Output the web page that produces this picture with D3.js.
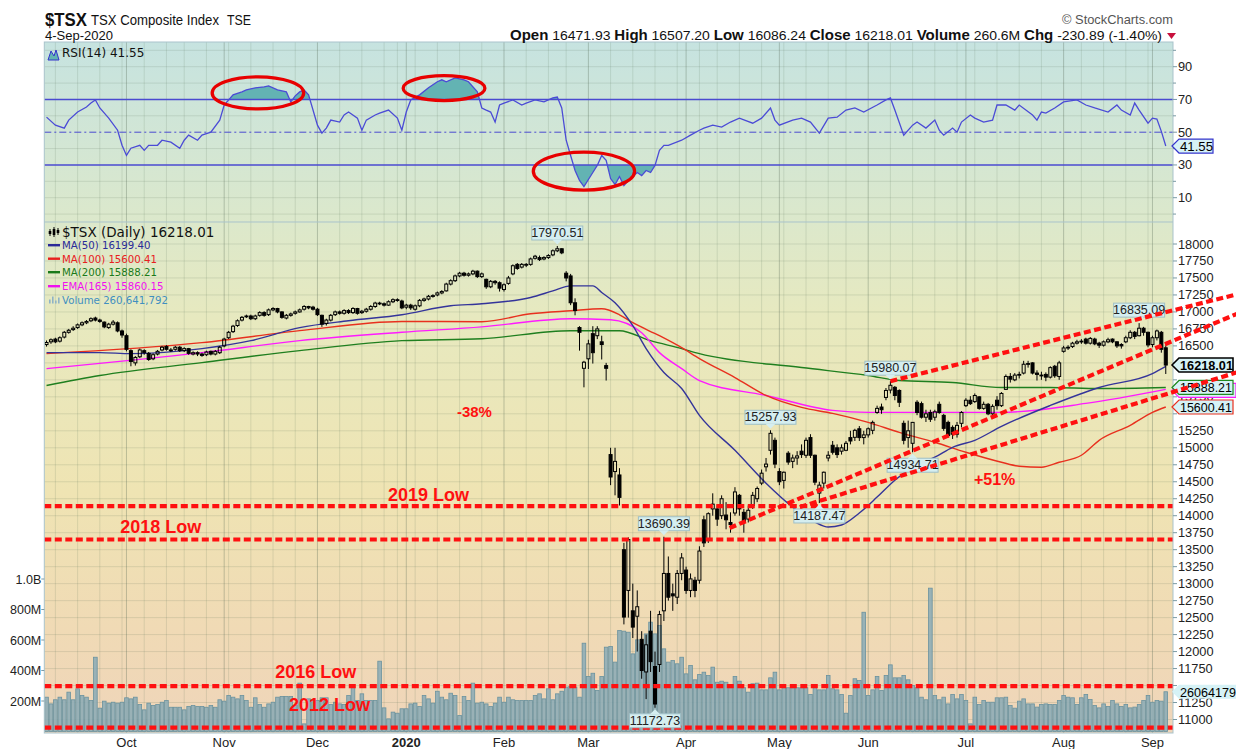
<!DOCTYPE html>
<html><head><meta charset="utf-8">
<script src="https://cdn.jsdelivr.net/npm/d3@7/dist/d3.min.js"></script>
<style>html,body{margin:0;padding:0;background:#fff;}svg{display:block;}</style>
</head><body>
<svg id="chart" width="1236" height="749"></svg>
<script>
// ================= DATA =================
const firstDay = "2019-09-05", lastDay = "2020-09-04";
const holidays = ["2019-10-14","2019-12-25","2019-12-26","2020-01-01","2020-02-17","2020-04-10","2020-05-18","2020-07-01","2020-08-03"];

const open = [
16520,16560,16600,16570,16630,16700,16740,16770,16810,16840,16870,16910,16880,16850,16770,16820,16840,16720,
16650,16430,16250,16340,16430,16390,16310,16380,16440,16490,16440,16450,16480,16430,16460,16380,16400,16380,16370,16420,16380,16400,
16500,16620,16710,16800,16880,16930,16940,16900,16950,16990,16960,17030,17050,17000,16910,16950,16980,17000,17040,17080,17070,
17040,16950,16830,16880,16960,17000,16980,17020,16990,17050,16990,17010,17040,17080,17130,17120,17100,17150,17180,17160,
17070,17100,17040,17090,17170,17190,17230,17250,17280,17310,17410,17460,17530,17570,17540,17560,17600,17520,17480,17370,17450,17430,
17330,17420,17560,17700,17660,17700,17700,17790,17800,17780,17800,17840,17900,17930,17570,17530,17135,16770,16170,
16310,16680,16650,16560,16210,14900,14650,14600,13500,12900,12600,12520,12180,11700,12300,11780,11810,12600,13150,12850,12800,13150,
13200,12900,13050,13050,13940,13650,14100,14100,14000,14010,13900,14040,14300,14050,13950,14150,14250,14480,14720,14963,15110,
14650,14520,14920,14800,14850,14950,14890,15150,14890,14333,14480,14850,15037,15000,14950,14963,15150,15154,15280,15150,
15190,15257,15520,15600,15741,15850,15890,15844,15360,15150,15066,15670,15650,15450,15520,15450,15640,15477,15374,15300,15200,15360,
15620,15700,15680,15750,15580,15640,15500,15700,15620,15860,16050,16000,16070,16100,16230,16250,16100,16060,16080,16040,16200,16050,
16420,16470,16490,16540,16570,16600,16540,16600,16540,16510,16560,16600,16560,16520,16560,16620,16700,16650,16760,16700,
16520,16620,16700,16471.93];
const high = [
16580,16610,16620,16640,16720,16750,16790,16830,16860,16880,16920,16930,16900,16860,16840,16880,16860,16740,
16680,16450,16350,16460,16450,16410,16390,16440,16500,16510,16470,16500,16500,16480,16470,16420,16420,16400,16430,16430,16440,16500,
16620,16720,16810,16890,16940,16960,16960,16960,17010,17010,17050,17070,17060,17010,16970,16990,17020,17050,17100,17090,17090,
17060,16960,16900,16970,17020,17020,17040,17040,17070,17060,17030,17060,17100,17150,17150,17140,17170,17200,17200,17180,
17120,17120,17110,17190,17210,17250,17260,17300,17320,17430,17480,17550,17590,17590,17580,17620,17610,17580,17490,17470,17470,17450,
17420,17530,17700,17720,17720,17720,17800,17840,17830,17820,17850,17920,17970.51,17940,17600,17560,17200,16790,16280,
16590,16790,16790,16650,16250,15000,15000,14700,13600,13680,13000,12900,12300,12250,12600,12000,12600,13690.39,13400,13000,13200,13450,
13250,13150,13100,13550,14000,14050,14330,14150,14300,14200,14050,14420,14320,14100,14150,14350,14430,14680,14850,15257.93,15150,
14700,14650,14950,14900,14950,15050,15150,15200,14900,14500,14650,14950,15100,15050,15050,15100,15250,15280,15320,15250,
15300,15400,15620,15650,15880,15980.07,15910,15860,15400,15400,15380,15700,15680,15560,15560,15560,15680,15500,15400,15330,15380,15540,
15730,15760,15800,15760,15680,15660,15640,15760,15820,16080,16100,16100,16120,16280,16280,16260,16140,16120,16110,16200,16220,16280,
16500,16510,16560,16590,16600,16620,16630,16620,16560,16580,16620,16610,16570,16540,16650,16730,16720,16835.09,16780,16710,
16650,16740,16720,16507.20];
const low = [
16490,16530,16540,16550,16610,16680,16720,16750,16790,16820,16850,16860,16840,16760,16750,16800,16700,16620,
16420,16200,16210,16320,16370,16280,16290,16360,16420,16430,16410,16430,16410,16410,16370,16360,16350,16340,16350,16360,16360,16380,
16480,16600,16690,16780,16860,16910,16880,16880,16930,16930,16940,17010,16980,16900,16890,16930,16960,16990,17020,17040,17020,
16940,16780,16800,16860,16940,16960,16960,16970,16970,16960,16970,16990,17020,17060,17100,17080,17090,17130,17150,17040,
17040,17030,17020,17070,17150,17170,17210,17230,17260,17300,17390,17440,17510,17520,17520,17540,17500,17500,17340,17350,17400,17300,
17300,17400,17540,17620,17640,17660,17680,17770,17750,17760,17780,17820,17880,17850,17450,17100,16950,16430,15890,
16160,16240,16600,16300,15990,14450,14300,14150,12400,12500,12200,12000,11600,11300,11700,11172.73,11700,12450,12750,12600,12700,13050,
12850,12800,12800,13000,13540,13600,14000,13850,13950,13800,13750,14000,14000,13750,13900,14100,14200,14450,14650,14900,14700,
14450,14400,14750,14700,14750,14850,14850,14850,14450,14187.47,14400,14800,14900,14850,14900,14950,15050,15100,15100,15050,
15150,15200,15500,15500,15700,15800,15700,15600,15050,15000,14934.71,15480,15430,15380,15380,15400,15500,15250,15150,15130,15150,15300,
15600,15630,15660,15560,15560,15480,15480,15560,15600,15850,15960,15980,16020,16080,16180,16080,15990,16000,15980,16020,16030,16000,
16400,16440,16470,16520,16530,16520,16520,16510,16470,16490,16540,16540,16470,16460,16540,16600,16600,16640,16650,16480,
16480,16580,16400,16086.24];
const close = [
16550,16590,16560,16620,16700,16730,16760,16810,16840,16860,16900,16880,16860,16780,16820,16850,16720,16660,
16450,16270,16330,16440,16400,16300,16370,16420,16480,16450,16440,16480,16430,16460,16390,16400,16380,16360,16410,16380,16420,16480,
16600,16700,16790,16870,16920,16940,16900,16940,16990,16950,17030,17050,17000,16920,16950,16970,17000,17030,17080,17060,17040,
16960,16820,16880,16950,17000,16980,17020,16990,17050,16980,17010,17040,17080,17130,17120,17100,17150,17180,17170,17060,
17100,17060,17090,17170,17190,17230,17240,17280,17300,17410,17460,17530,17570,17540,17560,17600,17520,17560,17370,17450,17430,17350,
17400,17500,17680,17640,17700,17690,17780,17820,17770,17800,17830,17900,17930,17870,17500,17135,17020,16700,16260,
16530,16400,16750,16520,16170,14570,14800,14270,12508,13650,12360,12660,11721,12100,11852,11228,12545,13150,12800,12820,13150,13379,
12900,13070,12900,13480,13600,14030,14170,13950,14250,13940,13870,14350,14100,13900,14080,14300,14400,14626,14760,15213,14760,
14500,14640,14790,14850,14880,14900,15110,14890,14494,14450,14640,14890,14934,14900,15000,15066,15100,15257,15150,15190,
15280,15374,15580,15560,15844,15920,15770,15670,15110,15250,15374,15520,15450,15500,15420,15530,15520,15286,15180,15200,15330,15520,
15700,15650,15770,15580,15640,15500,15610,15620,15800,16050,16010,16070,16080,16230,16240,16100,16080,16070,16040,16180,16060,16250,
16470,16480,16540,16560,16560,16540,16610,16530,16510,16560,16590,16560,16500,16500,16620,16700,16640,16760,16700,16514,
16620,16720,16450,16218.01];
// volume, millions of shares
const volumeM = [
225,181,208,225,208,258,208,280,236,225,203,487,153,199,186,192,186,192,221,214,225,177,142,186,170,177,192,203,159,159,
159,142,164,170,164,164,159,170,159,208,199,236,225,214,236,203,159,221,177,159,181,192,225,230,230,230,170,317,50,214,
208,203,221,221,177,192,181,177,236,291,203,247,203,203,203,461,155,83,127,120,149,149,181,186,
164,236,214,186,264,225,208,251,236,105,229,203,317,186,192,181,164,186,225,192,225,208,203,203,203,203,236,247,214,280,
208,247,264,291,295,291,225,579,361,382,269,361,553,557,455,662,658,651,509,601,575,640,717,640,695,542,455,465,444,487,
378,433,339,374,389,367,422,323,330,323,287,361,330,287,258,313,317,273,273,352,389,273,291,287,287,287,287,287,243,295,
273,273,367,280,273,243,120,236,346,334,782,236,273,361,269,367,437,352,352,367,339,302,287,225,208,940,236,208,225,181,
243,214,243,203,50,225,177,203,192,192,221,221,225,170,153,199,214,181,181,160,177,181,177,177,203,236,225,221,177,221,
243,210,170,155,181,164,203,181,164,177,155,160,177,203,236,192,203,199,260.64];

const rsiDay = [0,2,4,5,7,9,10,11,12,14,16,17,18,19,21,22,23,25,26,28,30,31,32,34,35,37,39,40,42,44,45,47,49,50,52,54,55,56,57,58,59,61,62,63,64,66,67,68,70,71,72,74,75,77,79,80,81,82,84,86,88,89,90,92,94,95,97,98,99,100,101,102,103,105,107,108,110,112,114,115,116,117,118,119,120,121,123,124,125,126,127,128,129,130,131,133,134,135,136,137,138,139,140,143,145,147,148,150,152,154,156,159,161,163,164,165,168,170,172,174,176,178,180,182,184,187,189,190,191,193,195,196,198,200,201,202,204,205,206,208,209,211,213,214,216,218,219,222,223,224,225,227,229,232,234,236,239,241,242,244,245,246,248,249,250,251,252];
const rsiValue = [59.2,54.3,52.5,57.4,62.3,65.4,67.8,69.7,64.8,58.6,51.2,42,35.8,40.2,42,38.9,42,42,45.1,43.9,40.2,45.1,48.2,45.1,48.2,50,57.4,66.6,72.8,74.6,75.8,77.1,77.7,78.3,75.8,74.6,68.5,72.2,74.6,75.8,72.8,54.3,49.4,52.5,57.4,56.2,60.5,62.3,58.6,51.2,57.4,60.5,61.7,63.5,58.6,51.2,62.3,69.7,72.8,77.1,80.8,82,80.8,83.2,82,80.8,74.6,64.8,63.5,62.3,56.2,66.6,67.8,69.7,66.6,67.8,69.7,68.5,70.9,71.5,64.8,45.1,35.8,26.6,20.5,16.8,25.4,29.7,35.8,32.8,21.7,18,22.9,17.4,20.5,25.4,23.5,26.6,25.4,29.7,38.9,42,42,45.1,48.2,51.2,52.5,54.3,53.1,56.2,58.6,55.5,58.6,64.8,57.4,54.3,57.4,58.6,56.2,49.4,58.6,59.2,63.5,64.8,62.3,66.6,69.7,70.9,63.5,48.2,54.3,56.2,52.5,57.4,51.2,48.2,52.5,50,56.2,60.5,58.6,56.2,57.4,66.6,66.6,63.5,66.6,60.5,57.4,62.3,61.7,64.8,68.5,69.7,66.6,64.8,62.3,66.6,63.5,60.5,67.8,63.5,55.5,58.6,58,50.5,41.55];

const ma50Day = [0,12,19,35,46,57,68,80,91,98,109,114,118,123,125,128,132,135,139,143,147,155,162,168,173,176,179,183,187,191,195,200,204,209,215,226,237,249,252];
const ma50Value = [16401,16401,16386,16460,16577,16768,16870,16958,17090,17120,17212,17310,17384,17384,17286,17134,16797,16460,16108,15873,15477,14963,14479,14127,13907,13834,13863,14039,14274,14523,14714,14861,15007,15110,15315,15623,15888,16093,16199.40];
const ma100Day = [0,35,57,80,98,109,118,125,129,132,138,143,147,155,162,170,177,185,192,200,207,215,219,224,228,233,237,244,249,252];
const ma100Value = [16386,16548,16724,16860,16856,16973,17017,17046,16958,16841,16650,16474,16313,16034,15770,15594,15506,15374,15227,15081,14934,14787,14729,14714,14787,14890,15110,15330,15521,15600.41];
const ma200Day = [0,12,35,57,80,98,118,129,136,143,147,170,185,192,204,215,226,237,252];
const ma200Value = [15917,16064,16254,16430,16577,16606,16724,16724,16577,16460,16386,16181,16064,15990,15961,15888,15888,15873,15888.21];
const ema165Day = [0,35,57,80,98,118,127,134,138,143,147,162,177,185,200,215,234,252];
const ema165Value = [16166,16401,16577,16700,16780,16900,16885,16694,16401,16166,15990,15770,15550,15521,15521,15521,15653,15860.15];

const priceTicks = [11000,11250,11500,11750,12000,12250,12500,12750,13000,13250,13500,13750,14000,14250,14500,14750,15000,15250,15500,15750,16000,16250,16500,16750,17000,17250,17500,17750,18000];
const rsiTicks = [10,30,50,70,90];
const volumeTicks = [200,400,600,800,1000];
const volumeTickLabels = ["200M","400M","600M","800M","1.0B"];

// peak / trough tags: day index, price, kind
const tagDay = [115,139,163,174,190,195,246,137];
const tagPrice = [17970.51,13690.39,15257.93,14187.47,15980.07,14934.71,16835.09,11172.73];
const tagKind = ["high","high","high","low","high","low","high","low"];

// horizontal support levels (price) and their names
const levelPrice = [14140,13650,11490,10880];
const levelName = ["2019 Low","2018 Low","2016 Low","2012 Low"];
const levelTextDay = [76.9,16.6,51.5,54.6];
const levelTextPrice = [14217,13746,11611,11126];

// trend lines
const trendStartDay = [190,153.8,169.6];
const trendStartPrice = [15980,13819,14128];
const trendEndDay = [268.3,268.3,268.3];
const trendEndPrice = [17264,16980,16116];

const pctText = ["-38%","+51%"];
const pctDay = [92.4,208.8];
const pctPrice = [15453,14452];

// RSI highlight ellipses
const ellDay = [47.6,89.5,121];
const ellRsi = [74.0,76.9,26.2];
const ellHalfDays = [10.3,9.2,11.4];
const ellHalfRsi = [9.8,7.6,11.6];

// ================= CHART =================
const svg = d3.select("#chart");
const fmt = d3.timeFormat("%Y-%m-%d");
const parse = d3.timeParse("%Y-%m-%d");
const days = [];
for (let d = parse(firstDay); d <= parse(lastDay); d = d3.timeDay.offset(d, 1)) {
  const wd = d.getDay();
  if (wd === 0 || wd === 6) continue;
  if (holidays.includes(fmt(d))) continue;
  days.push(d);
}
const N = days.length;

const L = 44.3, R = 1173, T = 42, MID = 222, B = 733;
const xi = d3.scaleLinear().domain([-0.5, N - 0.5]).range([L, 1168]);
const step = xi(1) - xi(0);
const yP = d3.scaleLinear().domain([11000, 18000]).range([719.5, 244]);
const yR = d3.scaleLinear().domain([10, 90]).range([197.7, 66.7]);
const yV = d3.scaleLinear().domain([0, 1000]).range([731.5, 579]);

const defs = svg.append("defs");
const grad = defs.append("linearGradient").attr("id","bg").attr("gradientUnits","userSpaceOnUse")
  .attr("x1",0).attr("x2",0).attr("y1",T).attr("y2",B);
[[0,"#c6e3e0"],[0.25,"#dbe8cc"],[0.4,"#e7e9bf"],[0.65,"#efe4b3"],[0.85,"#f0dab5"],[1,"#efd5ba"]]
  .forEach(s => grad.append("stop").attr("offset", s[0]).attr("stop-color", s[1]));
defs.append("clipPath").attr("id","plotClip").append("rect").attr("x",L).attr("y",MID).attr("width",R-L).attr("height",B-MID);
defs.append("clipPath").attr("id","rsiClip").append("rect").attr("x",L).attr("y",T).attr("width",R-L).attr("height",MID-T);
defs.append("clipPath").attr("id","ob").append("rect").attr("x",L).attr("y",T).attr("width",R-L).attr("height",yR(70)-T);
defs.append("clipPath").attr("id","os").append("rect").attr("x",L).attr("y",yR(30)).attr("width",R-L).attr("height",MID-yR(30));

svg.append("rect").attr("x",L).attr("y",T).attr("width",R-L).attr("height",B-T).attr("fill","url(#bg)");

// grid
const grid = svg.append("g");
const weekStarts = [], monthStarts = [];
days.forEach((d,i) => {
  if (i > 0 && d.getDay() <= days[i-1].getDay()) weekStarts.push(i);
  if (i > 0 && d.getMonth() !== days[i-1].getMonth()) monthStarts.push(i);
});
weekStarts.filter(i => !monthStarts.includes(i)).forEach(i => {
  grid.append("line").attr("x1",xi(i)).attr("x2",xi(i)).attr("y1",T).attr("y2",B)
    .attr("stroke","rgba(90,110,90,0.16)").attr("stroke-width",1);
});
monthStarts.forEach(i => {
  grid.append("line").attr("x1",xi(i)).attr("x2",xi(i)).attr("y1",T).attr("y2",B)
    .attr("stroke","rgba(80,100,80,0.32)").attr("stroke-width",1);
});
priceTicks.forEach(v => {
  grid.append("line").attr("x1",L).attr("x2",R).attr("y1",yP(v)).attr("y2",yP(v))
    .attr("stroke","rgba(90,110,90,0.16)");
});
d3.range(0, 101, 10).forEach(v => {
  if (v === 30 || v === 50 || v === 70) return;
  grid.append("line").attr("x1",L).attr("x2",R).attr("y1",yR(v)).attr("y2",yR(v))
    .attr("stroke","rgba(90,110,90,0.16)").attr("clip-path","url(#rsiClip)");
});

// ---- RSI panel ----
const rsiPts = rsiDay.map((d,i) => [d, rsiValue[i]]);
const rsiG = svg.append("g");
const areaOB = d3.area().x(p => xi(p[0])).y0(yR(70)).y1(p => yR(p[1]));
const areaOS = d3.area().x(p => xi(p[0])).y0(yR(30)).y1(p => yR(p[1]));
rsiG.append("path").attr("d", areaOB(rsiPts)).attr("fill","#63b3b3").attr("clip-path","url(#ob)");
rsiG.append("path").attr("d", areaOS(rsiPts)).attr("fill","#63b3b3").attr("clip-path","url(#os)");
[70,30].forEach(v => rsiG.append("line").attr("x1",L).attr("x2",R).attr("y1",yR(v)).attr("y2",yR(v))
  .attr("stroke","#4a4ad0").attr("stroke-width",1.4));
rsiG.append("line").attr("x1",L).attr("x2",R).attr("y1",yR(50)).attr("y2",yR(50))
  .attr("stroke","#4a4ad0").attr("stroke-width",1).attr("stroke-dasharray","7,3,2,3");
rsiG.append("path").attr("d", d3.line().x(p => xi(p[0])).y(p => yR(p[1]))(rsiPts))
  .attr("fill","none").attr("stroke","#4b4bd6").attr("stroke-width",1.3);
ellDay.forEach((d,i) => {
  rsiG.append("ellipse").attr("cx", xi(ellDay[i])).attr("cy", yR(ellRsi[i]))
    .attr("rx", xi(ellDay[i] + ellHalfDays[i]) - xi(ellDay[i]))
    .attr("ry", yR(ellRsi[i] - ellHalfRsi[i]) - yR(ellRsi[i]))
    .attr("fill","none").attr("stroke","#e80000").attr("stroke-width",3.3);
});

// ---- price panel ----
const pg = svg.append("g").attr("clip-path","url(#plotClip)");
pg.append("g").selectAll("rect").data(volumeM).join("rect")
  .attr("x",(v,i) => xi(i) - step/2 + 0.4).attr("width", step - 0.8)
  .attr("y", v => yV(v)).attr("height", v => yV(0) - yV(v))
  .attr("fill","#8fadb6").attr("fill-opacity",0.9).attr("stroke","#6a929e").attr("stroke-width",0.8);

const maLine = d3.line().curve(d3.curveMonotoneX).x(p => xi(p[0])).y(p => yP(p[1]));
function drawMA(dayArr, valArr, color) {
  pg.append("path").attr("d", maLine(dayArr.map((d,i) => [d, valArr[i]])))
    .attr("fill","none").attr("stroke", color).attr("stroke-width",1.4);
}
drawMA(ma200Day, ma200Value, "#1f7f1f");
drawMA(ema165Day, ema165Value, "#ff1aff");
drawMA(ma100Day, ma100Value, "#e8301e");
drawMA(ma50Day, ma50Value, "#34349a");

const cg = pg.append("g");
close.forEach((c,i) => {
  const x = xi(i), o = open[i];
  const top = Math.max(o, c), bot = Math.min(o, c);
  const hi = Math.max(high[i], top), lo = Math.min(low[i], bot);
  cg.append("line").attr("x1",x).attr("x2",x).attr("y1",yP(hi)).attr("y2",yP(top)).attr("stroke","#000").attr("stroke-width",1);
  cg.append("line").attr("x1",x).attr("x2",x).attr("y1",yP(bot)).attr("y2",yP(lo)).attr("stroke","#000").attr("stroke-width",1);
  cg.append("rect").attr("x", x - 1.5).attr("width", 3)
    .attr("y", yP(top)).attr("height", Math.max(0.8, yP(bot) - yP(top)))
    .attr("fill", c >= o ? "none" : "#000").attr("stroke","#000").attr("stroke-width",1);
});

const redDash = {stroke:"#ff1010", width:4.2, dash:"7,3.5"};
levelPrice.forEach((v,i) => {
  svg.append("line").attr("x1",L).attr("x2",R).attr("y1",yP(v)).attr("y2",yP(v))
    .attr("stroke",redDash.stroke).attr("stroke-width",redDash.width).attr("stroke-dasharray",redDash.dash);
  svg.append("text").attr("x", xi(levelTextDay[i])).attr("y", yP(levelTextPrice[i]))
    .attr("font-family","Liberation Sans, Arial, sans-serif").attr("font-weight","bold").attr("font-size",18)
    .attr("fill","#ff1010").text(levelName[i]);
});
pctText.forEach((t,i) => {
  svg.append("text").attr("x", xi(pctDay[i])).attr("y", yP(pctPrice[i]))
    .attr("font-family","Liberation Sans, Arial, sans-serif").attr("font-weight","bold").attr("font-size",i===0?15:16)
    .attr("fill","#ff1010").text(t);
});

tagDay.forEach((d,i) => {
  const x = xi(d), y = yP(tagPrice[i]);
  const txt = tagPrice[i].toFixed(2);
  const w = 51, h = 14;
  const g = svg.append("g");
  let by, tri;
  if (tagKind[i] === "high") { by = y - 6 - h; tri = `M${x-5},${y-6.5}L${x+5},${y-6.5}L${x},${y-1.5}Z`; }
  else { by = y + 6; tri = `M${x-5},${y+6.5}L${x+5},${y+6.5}L${x},${y+1.5}Z`; }
  g.append("rect").attr("x", x - w/2).attr("y", by).attr("width", w).attr("height", h)
    .attr("fill","#d5eef0").attr("stroke","#9fbfc6").attr("stroke-width",1);
  g.append("path").attr("d", tri).attr("fill","#d5eef0");
  g.append("text").attr("x", x).attr("y", by + 11).attr("text-anchor","middle")
    .attr("font-family","Liberation Sans, Arial, sans-serif").attr("font-size",12.5).attr("fill","#222").text(txt);
});

svg.append("rect").attr("x",L).attr("y",T).attr("width",R-L).attr("height",B-T).attr("fill","none").attr("stroke","#a9c3cb").attr("stroke-width",1);
svg.append("line").attr("x1",L).attr("x2",R).attr("y1",MID).attr("y2",MID).attr("stroke","#a9c3cb");
const axFont = "Liberation Sans, Arial, sans-serif";
// right value tag positions (price labels hidden behind them are skipped)
const tagYs = [yP(close[N-1]), yP(ma200Value[ma200Value.length-1]), yP(ma100Value[ma100Value.length-1]), yV(volumeM[N-1])];
priceTicks.forEach(v => {
  svg.append("line").attr("x1",R).attr("x2",R+4).attr("y1",yP(v)).attr("y2",yP(v)).attr("stroke","#7a9aa4");
  const hidden = tagYs.some(ty => Math.abs(ty - yP(v)) < 9);
  svg.append("text").attr("x",R+5).attr("y",yP(v)+4.5).attr("font-family",axFont).attr("font-size",12.8)
    .attr("fill","#222").attr("opacity", hidden ? 0 : 1).text(v);
});
d3.range(0, 101, 10).forEach(v => {
  if (yR(v) < T || yR(v) > MID) return;
  svg.append("line").attr("x1",R).attr("x2",R+(rsiTicks.includes(v)?4:3)).attr("y1",yR(v)).attr("y2",yR(v)).attr("stroke","#7a9aa4");
});
rsiTicks.forEach(v => {
  svg.append("text").attr("x",R+5).attr("y",yR(v)+4.5).attr("font-family",axFont).attr("font-size",12.8).attr("fill","#222").text(v);
});
volumeTicks.forEach((v,i) => {
  svg.append("line").attr("x1",L-3).attr("x2",L).attr("y1",yV(v)).attr("y2",yV(v)).attr("stroke","#7a9aa4");
  svg.append("text").attr("x",L-3).attr("y",yV(v)+4.5).attr("text-anchor","end").attr("font-family",axFont).attr("font-size",12.5).attr("fill","#222").text(volumeTickLabels[i]);
});
const monthFmt = d3.timeFormat("%b");
monthStarts.forEach(i => {
  const d = days[i];
  const isYear = d.getMonth() === 0;
  svg.append("text").attr("x", xi(i)).attr("y", 747).attr("text-anchor","middle")
    .attr("font-family",axFont).attr("font-size",13).attr("font-weight", isYear ? "bold" : "normal")
    .attr("fill","#222").text(isYear ? d.getFullYear() : monthFmt(d));
});

function valueTag(y, text, stroke, bold, x2, fs, tl) {
  const g = svg.append("g");
  g.append("path").attr("d", `M${R-1},${y}L${R+6},${y-7}L${x2},${y-7}L${x2},${y+7}L${R+6},${y+7}Z`)
    .attr("fill","#d6f2f6").attr("stroke", stroke || "none").attr("stroke-width", bold ? 1.6 : 1.2);
  if (text) {
    const t = g.append("text").attr("x", R+7).attr("y", y+4.8).attr("font-family",axFont).attr("font-size",fs)
      .attr("font-weight", bold ? "bold" : "normal").attr("fill","#000").text(text);
    if (tl) t.attr("textLength", tl).attr("lengthAdjust","spacingAndGlyphs");
  }
}
valueTag(yR(rsiValue[rsiValue.length-1]), rsiValue[rsiValue.length-1].toFixed(2), "#3434cc", false, 1213, 13, 33);
valueTag(yP(ema165Value[ema165Value.length-1]) + 1, "", "#ff1aff", false, 1236, 13);
valueTag(yP(ma200Value[ma200Value.length-1]), ma200Value[ma200Value.length-1].toFixed(2), "#1f8a1f", false, 1233, 13, 52);
valueTag(yP(ma100Value[ma100Value.length-1]), ma100Value[ma100Value.length-1].toFixed(2), "#e8301e", false, 1233, 13, 52);
valueTag(yP(close[N-1]), close[N-1].toFixed(2), "#000", true, 1233, 13.5, 53);
valueTag(yV(volumeM[N-1]), "26064179", null, false, 1240, 13, 56);

trendStartDay.forEach((d,i) => {
  svg.append("line").attr("x1", xi(trendStartDay[i])).attr("y1", yP(trendStartPrice[i]))
    .attr("x2", xi(trendEndDay[i])).attr("y2", yP(trendEndPrice[i]))
    .attr("stroke",redDash.stroke).attr("stroke-width",redDash.width).attr("stroke-dasharray",redDash.dash);
});

const lf = "DejaVu Sans, Verdana, sans-serif";
const leg = svg.append("g");
leg.append("text").attr("x",62).attr("y",236.5).attr("font-family",lf).attr("font-size",13.5).attr("fill","#111").text("$TSX (Daily) " + close[N-1].toFixed(2));
[[50,231,234],[54,229,235],[58,230,233]].forEach(c => {
  leg.append("line").attr("x1",c[0]).attr("x2",c[0]).attr("y1",c[1]-2).attr("y2",c[2]+2).attr("stroke","#000");
  leg.append("rect").attr("x",c[0]-1.3).attr("y",c[1]).attr("width",2.6).attr("height",c[2]-c[1]).attr("fill","#000");
});
const legRows = [
  ["MA(50) " + ma50Value[ma50Value.length-1].toFixed(2), "#2a2a98", 249],
  ["MA(100) " + ma100Value[ma100Value.length-1].toFixed(2), "#e8201e", 262.5],
  ["MA(200) " + ma200Value[ma200Value.length-1].toFixed(2), "#1a7a1a", 276],
  ["EMA(165) " + ema165Value[ema165Value.length-1].toFixed(2), "#f010f0", 290],
  ["Volume 260,641,792", "#3f8fc0", 303.5]
];
legRows.forEach((r,i) => {
  if (i < 4) leg.append("rect").attr("x",48).attr("y",r[2]-5).attr("width",12).attr("height",2.4).attr("fill",r[1]);
  else [[49,4],[52,7],[55,3],[58,6]].forEach(b => leg.append("rect").attr("x",b[0]).attr("y",r[2]-b[1]).attr("width",1.6).attr("height",b[1]).attr("fill","#8fb3c6"));
  leg.append("text").attr("x",62).attr("y",r[2]).attr("font-family",lf).attr("font-size",10.2).attr("fill",r[1]).text(r[0]);
});
leg.append("path").attr("d","M48,60L51,51L54,56L56,50L59,60Z").attr("fill","#63b3b3").attr("stroke","#3434cc").attr("stroke-width",1);
leg.append("text").attr("x",62).attr("y",57).attr("font-family",lf).attr("font-size",12).attr("fill","#111").text("RSI(14) " + rsiValue[rsiValue.length-1].toFixed(2));

const hf = "Liberation Sans, Arial, sans-serif";
svg.append("text").attr("x",45).attr("y",26).attr("font-family",hf).attr("font-weight","bold").attr("font-size",18).attr("textLength",42).attr("lengthAdjust","spacingAndGlyphs").attr("fill","#111").text("$TSX");
svg.append("text").attr("x",91).attr("y",25).attr("font-family",hf).attr("font-size",14).attr("textLength",128).attr("lengthAdjust","spacingAndGlyphs").attr("fill","#111").text("TSX Composite Index");
svg.append("text").attr("x",227).attr("y",25).attr("font-family",hf).attr("font-size",14).attr("textLength",24).attr("lengthAdjust","spacingAndGlyphs").attr("fill","#111").text("TSE");
svg.append("text").attr("x",45).attr("y",40).attr("font-family",hf).attr("font-size",12.5).attr("textLength",68).attr("lengthAdjust","spacingAndGlyphs").attr("fill","#111").text("4-Sep-2020");
svg.append("text").attr("x",1062).attr("y",24).attr("font-family",hf).attr("font-size",13.5).attr("textLength",111).attr("lengthAdjust","spacingAndGlyphs").attr("fill","#555").text("\u00A9 StockCharts.com");
const hdr = svg.append("text").attr("x",510).attr("y",40).attr("font-family",hf).attr("font-size",13.5).attr("fill","#111")
  .attr("textLength",652).attr("lengthAdjust","spacingAndGlyphs");
const parts = [["Open",true],[" 16471.93  ",false],["High",true],[" 16507.20  ",false],["Low",true],[" 16086.24  ",false],
  ["Close",true],[" 16218.01  ",false],["Volume",true],[" 260.6M  ",false],["Chg",true],[" -230.89 (-1.40%)",false]];
parts.forEach(p => hdr.append("tspan").attr("font-weight", p[1] ? "bold" : "normal").attr("font-size", p[1] ? 14.5 : 13.5).text(p[0]));
svg.append("path").attr("d","M1167,33L1176,33L1171.5,39Z").attr("fill","#c8103c");
</script>
</body></html>
